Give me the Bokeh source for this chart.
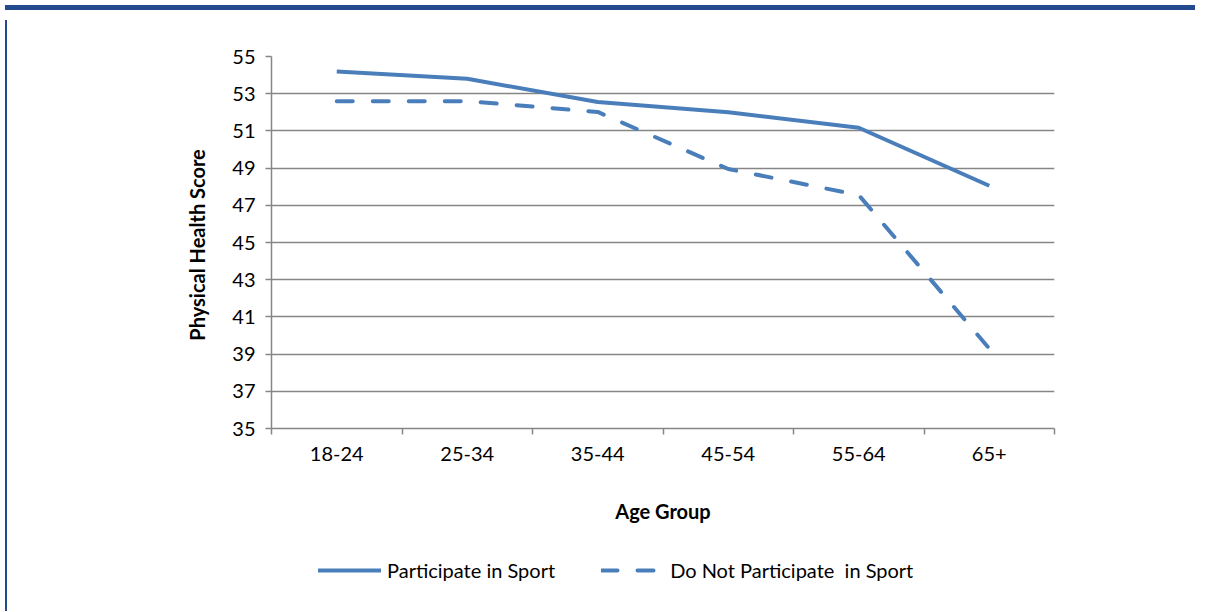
from bokeh.plotting import figure
from bokeh.models import (Range1d, FixedTicker, Legend, LegendItem, Div, ColumnDataSource)
from bokeh.layouts import column, row
from bokeh.embed import file_html
from bokeh.resources import INLINE

categories = ["18-24", "25-34", "35-44", "45-54", "55-64", "65+"]
participate = [54.2, 53.8, 52.55, 52.0, 51.17, 48.05]
not_participate = [52.6, 52.6, 52.02, 48.95, 47.55, 39.3]
y_ticks = [35, 37, 39, 41, 43, 45, 47, 49, 51, 53, 55]
series_names = ["Participate in Sport", "Do Not Participate  in Sport"]

FONT = "Lato"
LINE_COLOR = "#4A7EBB"
GRID_COLOR = "#868686"
BAND_COLOR = "#234A8E"
DASH = "16 20"

x_pos = [i + 0.5 for i in range(len(categories))]
src = ColumnDataSource(dict(x=x_pos, a=participate, b=not_participate))

p = figure(width=1188, height=530, output_backend="svg", toolbar_location=None,
           x_range=Range1d(0, len(categories)), y_range=Range1d(35, 55),
           min_border_left=259, min_border_right=146, min_border_top=41, min_border_bottom=117)
p.outline_line_color = None
p.background_fill_color = "white"
p.border_fill_color = "white"

r1 = p.line("x", "a", source=src, line_color=LINE_COLOR, line_width=4, line_join="round")
r2 = p.line("x", "b", source=src, line_color=LINE_COLOR, line_width=4, line_dash=DASH,
            line_cap="round", line_join="round")

# x axis
xa = p.xaxis[0]
xa.ticker = FixedTicker(ticks=x_pos, minor_ticks=list(range(len(categories) + 1)))
xa.major_label_overrides = {x: c for x, c in zip(x_pos, categories)}
xa.major_tick_out = 0
xa.major_tick_in = 0
xa.minor_tick_out = 6
xa.minor_tick_in = 0
xa.minor_tick_line_color = GRID_COLOR
xa.minor_tick_line_width = 1.5
xa.axis_line_color = GRID_COLOR
xa.axis_line_width = 1.5
xa.major_label_standoff = 12
xa.major_label_text_font = FONT
xa.major_label_text_font_size = "20px"
xa.major_label_text_color = "#000000"
xa.axis_label = "Age Group"
xa.axis_label_text_font = FONT
xa.axis_label_text_font_style = "bold"
xa.axis_label_text_font_size = "20px"
xa.axis_label_text_color = "#000000"
xa.axis_label_standoff = 35

# y axis
ya = p.yaxis[0]
ya.ticker = FixedTicker(ticks=y_ticks, minor_ticks=[])
ya.major_tick_out = 6
ya.major_tick_in = 0
ya.major_tick_line_color = GRID_COLOR
ya.major_tick_line_width = 1.5
ya.minor_tick_line_color = None
ya.axis_line_color = GRID_COLOR
ya.axis_line_width = 1.5
ya.major_label_standoff = 10
ya.major_label_text_font = FONT
ya.major_label_text_font_size = "20px"
ya.major_label_text_color = "#000000"
ya.axis_label = "Physical  Health Score"
ya.axis_label_text_font = FONT
ya.axis_label_text_font_style = "bold"
ya.axis_label_text_font_size = "20px"
ya.axis_label_text_color = "#000000"
ya.axis_label_standoff = 20

p.xgrid.visible = False
p.ygrid.grid_line_color = GRID_COLOR
p.ygrid.grid_line_width = 1.5
p.ygrid.ticker = FixedTicker(ticks=y_ticks)

# legend strip (separate figure so that the legend is not clipped)
lg = figure(width=1188, height=61, output_backend="svg", toolbar_location=None,
            x_axis_location=None, y_axis_location=None,
            x_range=Range1d(0, 1), y_range=Range1d(0, 1),
            min_border_left=259, min_border_right=146, min_border_top=0, min_border_bottom=0)
lg.outline_line_color = None
lg.xgrid.visible = False
lg.ygrid.visible = False
# proxy renderers lying outside the visible range (only their styles are used by the legend)
l1 = lg.line([0, 1], [-5, -5], line_color=LINE_COLOR, line_width=4, line_cap="round")
l2 = lg.line([0, 1], [-5, -5], line_color=LINE_COLOR, line_width=4, line_dash=DASH,
             line_cap="round")
legend = Legend(items=[LegendItem(label=series_names[0], renderers=[l1]),
                       LegendItem(label=series_names[1], renderers=[l2])],
                orientation="horizontal", location=(47, 24), margin=0, padding=0,
                glyph_width=63, glyph_height=20, label_standoff=6, spacing=46,
                label_text_font=FONT, label_text_font_size="20px", label_text_color="#000000",
                border_line_color=None, background_fill_alpha=0)
lg.add_layout(legend, "center")

band = Div(width=1190, height=5, styles={"background-color": BAND_COLOR})
left_border = Div(width=2, height=591, styles={"background-color": BAND_COLOR})
layout = column(band, row(left_border, column(p, lg, spacing=0), spacing=0), spacing=0)

open("out.html", "w").write(file_html(layout, INLINE))
